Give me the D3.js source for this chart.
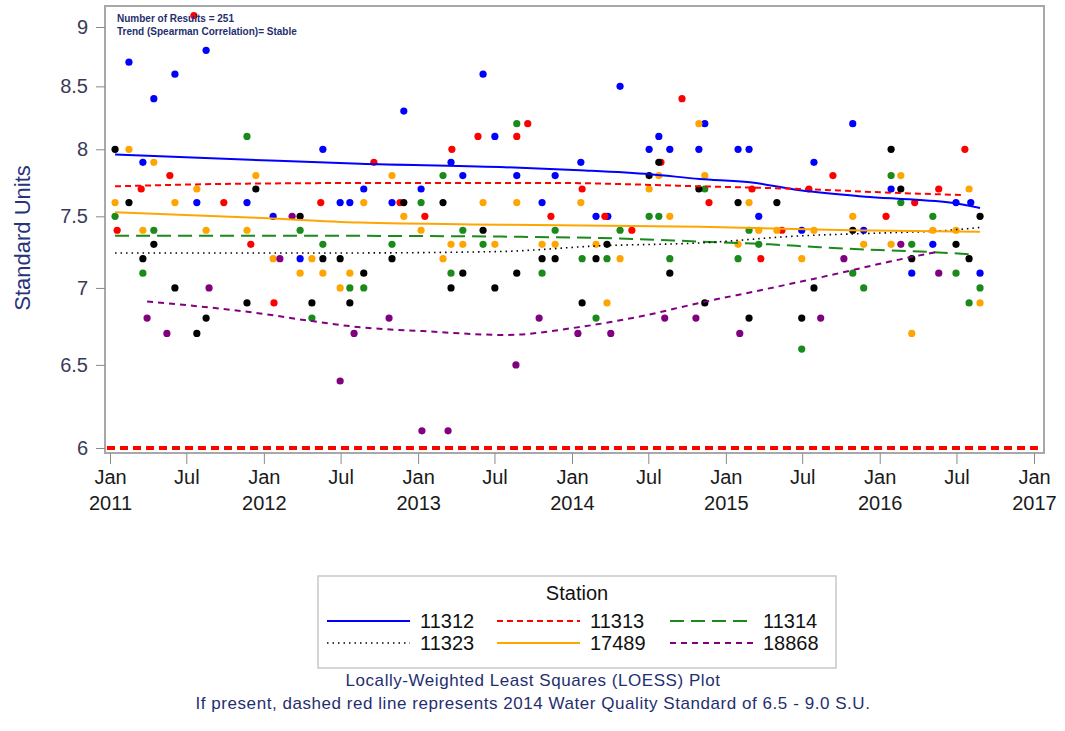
<!DOCTYPE html>
<html><head><meta charset="utf-8">
<script src="https://cdn.jsdelivr.net/npm/d3@7"></script>
<style>body{margin:0;background:#fff;} svg{display:block;font-family:"Liberation Sans",Arial,sans-serif;}</style>
</head><body>
<svg id="chart" width="1065" height="731"></svg>
<script>
// ---------- DATA ----------
const stations = ["11312","11313","11314","11323","17489","18868"];
const yTicks = [6, 6.5, 7, 7.5, 8, 8.5, 9];
const standardLevel = 6.0;
const annotation = ["Number of Results = 251", "Trend (Spearman Correlation)= Stable"];
const footnotes = ["Locally-Weighted Least Squares (LOESS) Plot",
  "If present, dashed red line represents 2014 Water Quality Standard of 6.5 - 9.0 S.U."];

const obs11312 = [["2011-02-15",8.7],["2011-03-20",7.9],["2011-04-15",8.4],["2011-06-04",8.6],["2011-07-26",7.6],["2011-08-17",8.8],["2011-11-22",7.6],["2012-01-23",7.5],["2012-03-27",7.2],["2012-05-20",8.0],["2012-06-30",7.6],["2012-07-23",7.6],["2012-08-25",7.7],["2012-10-31",7.6],["2012-11-28",8.3],["2013-01-08",7.7],["2013-03-20",7.9],["2013-04-17",7.8],["2013-06-04",8.6],["2013-07-02",8.1],["2013-08-23",7.8],["2013-10-22",7.6],["2013-11-22",7.8],["2014-01-22",7.9],["2014-02-27",7.5],["2014-03-27",7.5],["2014-04-25",8.5],["2014-07-03",8.0],["2014-07-26",8.1],["2014-08-21",8.0],["2014-10-29",8.0],["2014-11-12",8.2],["2015-01-30",8.0],["2015-02-25",8.0],["2015-03-20",7.5],["2015-06-30",7.4],["2015-07-29",7.9],["2015-10-29",8.2],["2015-11-24",7.4],["2016-01-28",7.7],["2016-03-17",7.1],["2016-05-06",7.3],["2016-06-30",7.6],["2016-08-04",7.6],["2016-08-26",7.1]];
const obs11313 = [["2011-01-18",7.4],["2011-03-16",7.7],["2011-05-23",7.8],["2011-07-19",9.1],["2011-09-28",7.6],["2011-12-01",7.3],["2012-01-25",6.9],["2012-05-15",7.6],["2012-09-18",7.9],["2012-11-19",7.6],["2013-01-17",7.5],["2013-03-22",8.0],["2013-05-23",8.1],["2013-08-23",8.1],["2013-09-18",8.2],["2013-11-12",7.5],["2014-01-25",7.7],["2014-03-20",7.5],["2014-05-23",7.4],["2014-07-31",7.9],["2014-09-19",8.4],["2014-11-22",7.6],["2015-03-04",7.7],["2015-03-25",7.2],["2015-05-14",7.4],["2015-07-17",7.7],["2015-09-12",7.8],["2016-01-16",7.5],["2016-03-24",7.6],["2016-05-20",7.7],["2016-07-21",8.0]];
const obs11314 = [["2011-01-13",7.5],["2011-03-20",7.1],["2011-04-15",7.4],["2011-11-22",8.1],["2012-03-27",7.4],["2012-04-24",6.8],["2012-05-20",7.3],["2012-07-23",7.0],["2012-08-25",7.0],["2012-10-31",7.3],["2013-01-08",7.6],["2013-03-01",7.8],["2013-03-20",7.1],["2013-04-17",7.4],["2013-06-04",7.3],["2013-08-23",8.2],["2013-10-22",7.1],["2013-11-22",7.4],["2014-01-25",7.2],["2014-02-27",6.8],["2014-03-25",7.2],["2014-04-25",7.4],["2014-07-03",7.5],["2014-07-26",7.5],["2014-08-21",7.2],["2014-11-12",7.7],["2015-01-30",7.2],["2015-02-25",7.4],["2015-03-20",7.3],["2015-06-30",6.6],["2015-10-29",7.1],["2015-11-24",7.0],["2016-01-28",7.8],["2016-02-20",7.6],["2016-03-17",7.3],["2016-05-06",7.5],["2016-06-30",7.1],["2016-07-31",6.9],["2016-08-26",7.0]];
const obs11323 = [["2011-01-13",8.0],["2011-02-15",7.6],["2011-03-20",7.2],["2011-04-15",7.3],["2011-06-04",7.0],["2011-07-26",6.7],["2011-08-17",6.8],["2011-11-22",6.9],["2011-12-13",7.7],["2012-03-27",7.5],["2012-04-24",6.9],["2012-05-20",7.2],["2012-06-30",7.2],["2012-07-23",6.9],["2012-08-25",7.1],["2012-10-31",7.2],["2012-11-28",7.6],["2013-03-01",7.6],["2013-03-20",7.0],["2013-04-17",7.1],["2013-06-04",7.4],["2013-07-02",7.0],["2013-08-23",7.1],["2013-10-22",7.2],["2013-11-22",7.2],["2014-01-25",6.9],["2014-02-27",7.2],["2014-03-25",7.3],["2014-07-03",7.8],["2014-07-26",7.9],["2014-08-21",7.1],["2014-10-29",7.7],["2014-11-12",6.9],["2015-01-30",7.6],["2015-02-25",6.8],["2015-05-02",7.6],["2015-06-30",6.8],["2015-07-29",7.0],["2015-10-29",7.4],["2016-01-28",8.0],["2016-02-20",7.7],["2016-03-17",7.2],["2016-06-30",7.3],["2016-07-31",7.2],["2016-08-26",7.5]];
const obs17489 = [["2011-01-13",7.6],["2011-02-15",8.0],["2011-03-20",7.4],["2011-04-15",7.9],["2011-06-04",7.6],["2011-07-26",7.7],["2011-08-17",7.4],["2011-11-22",7.4],["2011-12-13",7.8],["2012-01-23",7.2],["2012-03-27",7.1],["2012-04-24",7.2],["2012-05-20",7.1],["2012-06-30",7.0],["2012-07-23",7.1],["2012-08-25",7.6],["2012-10-31",7.8],["2012-11-28",7.5],["2013-01-08",7.4],["2013-03-01",7.2],["2013-03-20",7.3],["2013-04-17",7.3],["2013-06-04",7.6],["2013-07-02",7.3],["2013-08-23",7.6],["2013-10-22",7.3],["2013-11-22",7.3],["2014-01-22",7.6],["2014-02-27",7.3],["2014-03-25",6.9],["2014-04-25",7.2],["2014-07-03",7.7],["2014-07-26",7.8],["2014-08-21",7.5],["2014-10-29",8.2],["2014-11-12",7.8],["2015-01-30",7.3],["2015-02-25",7.6],["2015-03-20",7.4],["2015-05-02",7.4],["2015-06-30",7.2],["2015-07-29",7.4],["2015-10-29",7.5],["2015-11-24",7.3],["2016-01-28",7.3],["2016-02-20",7.8],["2016-03-17",6.7],["2016-05-06",7.4],["2016-06-30",7.4],["2016-07-31",7.7],["2016-08-26",6.9]];
const obs18868 = [["2011-03-30",6.8],["2011-05-16",6.7],["2011-08-24",7.0],["2012-02-08",7.2],["2012-03-08",7.5],["2012-06-30",6.4],["2012-08-02",6.7],["2012-10-24",6.8],["2013-01-10",6.1],["2013-03-13",6.1],["2013-08-21",6.5],["2013-10-15",6.8],["2014-01-15",6.7],["2014-04-03",6.7],["2014-08-09",6.8],["2014-10-22",6.8],["2015-02-03",6.7],["2015-08-14",6.8],["2015-10-08",7.2],["2016-02-20",7.3],["2016-05-20",7.1]];

// LOESS fits
const fit11312 = [["2011-01-13",7.96],["2011-11-29",7.92],["2012-08-16",7.89],["2013-07-14",7.865],["2014-01-20",7.84],["2014-07-05",7.81],["2014-10-31",7.775],["2015-02-27",7.75],["2015-06-26",7.69],["2015-12-09",7.64],["2016-06-15",7.60],["2016-08-26",7.56]];
const fit11313 = [["2011-01-13",7.72],["2011-11-29",7.74],["2012-11-19",7.745],["2013-11-10",7.745],["2014-10-31",7.72],["2015-06-26",7.70],["2016-02-18",7.67],["2016-07-21",7.655]];
const fit11314 = [["2011-01-13",7.36],["2012-08-16",7.36],["2014-03-08",7.345],["2014-10-31",7.32],["2015-04-16",7.30],["2015-08-12",7.28],["2016-01-01",7.26],["2016-04-05",7.25],["2016-08-09",7.23]];
const fit11323 = [["2011-01-13",7.24],["2012-07-23",7.24],["2013-07-14",7.25],["2014-03-08",7.29],["2014-10-31",7.31],["2015-06-26",7.36],["2016-01-01",7.38],["2016-06-15",7.40],["2016-08-26",7.42]];
const fit17489 = [["2011-01-13",7.53],["2011-12-13",7.49],["2012-08-16",7.455],["2013-07-14",7.44],["2014-10-31",7.425],["2015-10-22",7.40],["2016-08-26",7.39]];
const fit18868 = [["2011-03-30",6.91],["2011-12-23",6.83],["2012-04-24",6.78],["2012-08-16",6.74],["2013-01-12",6.715],["2013-07-31",6.69],["2014-01-03",6.735],["2014-06-11",6.81],["2014-10-31",6.90],["2015-03-16",6.98],["2015-08-19",7.075],["2016-01-25",7.18],["2016-05-20",7.25]];

const observations = [obs11312, obs11313, obs11314, obs11323, obs17489, obs18868];
const fits = [fit11312, fit11313, fit11314, fit11323, fit17489, fit18868];

// ---------- STYLES ----------
const colors = ["#0000ff","#ff0000","#1a8a1a","#000000","#ffa500","#800080"];
const dashes = [null,"6,4","14,7","1.5,4",null,"6,5"];
const widths = [2,2,2,1.6,2,2];

// ---------- DRAW ----------
const svg = d3.select("#chart");
const parse = d3.timeParse("%Y-%m-%d");
const frame = {left:105, top:6, right:1044, bottom:453};
const x = d3.scaleTime().domain([new Date(2011,0,1), new Date(2017,0,1)]).range([110,1034]);
const y = d3.scaleLog().domain([6,9]).range([448,27]);

svg.append("rect").attr("x",frame.left).attr("y",frame.top)
  .attr("width",frame.right-frame.left).attr("height",frame.bottom-frame.top)
  .attr("fill","#fff").attr("stroke","#a8a8a8").attr("stroke-width",2);

const yAxis = svg.append("g").attr("transform",`translate(${frame.left},0)`)
  .call(d3.axisLeft(y).tickValues(yTicks).tickFormat(d3.format("")).tickSize(9).tickPadding(8));
yAxis.select(".domain").remove();
yAxis.selectAll(".tick line").attr("stroke","#8a8a8a");
yAxis.selectAll(".tick text").attr("font-size",20).attr("fill","#3a3a58")
  .attr("font-family","Liberation Sans, Arial, sans-serif");

const xAxis = svg.append("g").attr("transform",`translate(0,${frame.bottom})`)
  .call(d3.axisBottom(x).ticks(d3.timeMonth.every(6)).tickSize(11).tickFormat(""));
xAxis.select(".domain").remove();
xAxis.selectAll(".tick line").attr("stroke","#8a8a8a");
xAxis.selectAll(".tick").each(function(d){
  const t = d3.select(this).append("text").attr("fill","#1a1a1a").attr("font-size",20)
    .attr("text-anchor","middle").attr("font-family","Liberation Sans, Arial, sans-serif");
  t.append("tspan").attr("x",0).attr("y",31).text(d3.timeFormat("%b")(d));
  if (d.getMonth()===0) t.append("tspan").attr("x",0).attr("y",57).text(d3.timeFormat("%Y")(d));
});

svg.append("text").attr("transform","translate(30,238) rotate(-90)")
  .attr("text-anchor","middle").attr("font-size",22).attr("fill","#27337a")
  .text("Standard Units");

svg.append("line").attr("x1",frame.left+2).attr("x2",frame.right-2)
  .attr("y1",y(standardLevel)).attr("y2",y(standardLevel))
  .attr("stroke","#ff0000").attr("stroke-width",4).attr("stroke-dasharray","8,5");

observations.forEach((obs,i)=>{
  svg.append("g").selectAll("circle").data(obs).join("circle")
    .attr("cx",d=>x(parse(d[0]))).attr("cy",d=>y(d[1])).attr("r",3.6)
    .attr("fill",colors[i]);
});

const line = d3.line().x(d=>x(parse(d[0]))).y(d=>y(d[1])).curve(d3.curveMonotoneX);
fits.forEach((f,i)=>{
  svg.append("path").datum(f).attr("d",line).attr("fill","none")
    .attr("stroke",colors[i]).attr("stroke-width",widths[i])
    .attr("stroke-dasharray",dashes[i]);
});

annotation.forEach((t,i)=>{
  svg.append("text").attr("x",117).attr("y",22+i*13).attr("font-size",10).attr("font-weight","bold")
    .attr("fill","#1f2f6f").text(t);
});

const lg = svg.append("g");
lg.append("rect").attr("x",318).attr("y",576).attr("width",518).attr("height",92)
  .attr("fill","#fff").attr("stroke","#c8c8c8").attr("stroke-width",1.5);
lg.append("text").attr("x",577).attr("y",600).attr("text-anchor","middle").attr("font-size",20)
  .attr("fill","#111").text("Station");
const colX = [327, 497, 670];
stations.forEach((s,i)=>{
  const cx = colX[i%3], cy = i<3 ? 621 : 643;
  lg.append("line").attr("x1",cx).attr("x2",cx+83).attr("y1",cy).attr("y2",cy)
    .attr("stroke",colors[i]).attr("stroke-width",widths[i]).attr("stroke-dasharray",dashes[i]);
  lg.append("text").attr("x",cx+93).attr("y",cy+7).attr("font-size",20).attr("fill","#111").text(s);
});

footnotes.forEach((t,i)=>{
  svg.append("text").attr("x",533).attr("y",686+i*23).attr("text-anchor","middle")
    .attr("font-size",17).attr("letter-spacing",0.55).attr("fill","#1f2f6f").text(t);
});
</script>
</body></html>
